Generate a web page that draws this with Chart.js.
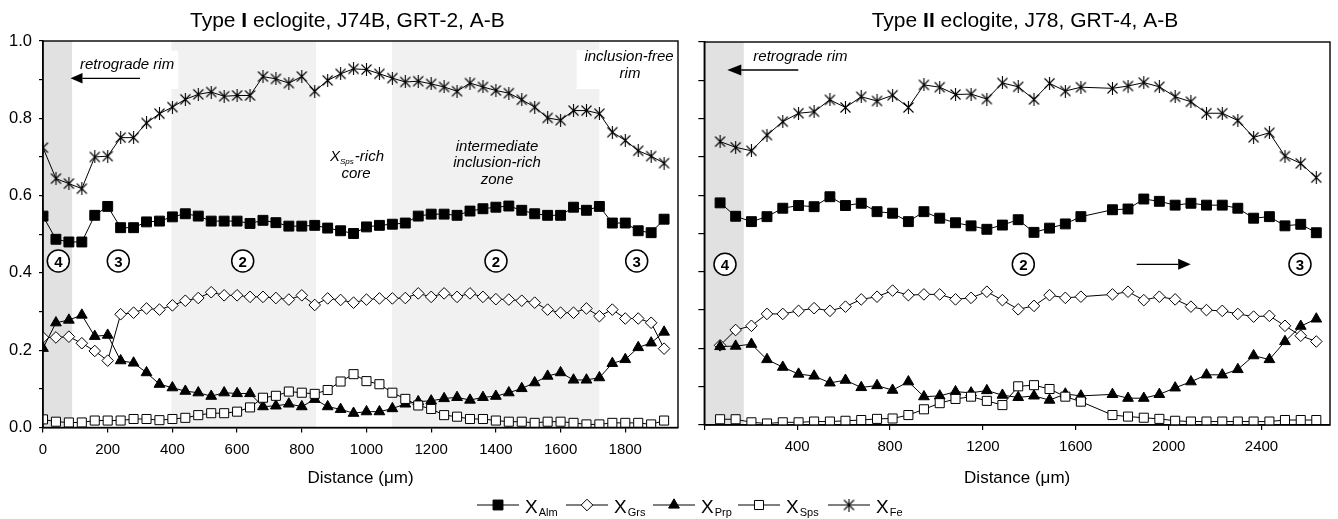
<!DOCTYPE html>
<html><head><meta charset="utf-8">
<script src="https://cdn.jsdelivr.net/npm/chart.js@4.4.0/dist/chart.umd.min.js"></script>
<style>
html,body{margin:0;padding:0;background:#fff;}
#wrap{position:relative;width:1338px;height:519px;background:#fff;}
canvas{position:absolute;left:0;top:0;}
</style></head><body>
<div id="wrap"><canvas id="c1" width="1338" height="519"></canvas><canvas id="c2" width="1338" height="519"></canvas></div>
<script>
// ---------- DATA: Type I eclogite, J74B, GRT-2 (left panel) ----------
const leftDistance = [0,40,80,120,160,200,240,280,320,360,400,440,480,520,560,600,640,680,720,760,800,840,880,920,960,1000,1040,1080,1120,1160,1200,1240,1280,1320,1360,1400,1440,1480,1520,1560,1600,1640,1680,1720,1760,1800,1840,1880,1920];
const leftAlm = [0.547,0.487,0.480,0.480,0.549,0.572,0.517,0.517,0.532,0.534,0.545,0.553,0.547,0.534,0.534,0.534,0.528,0.536,0.530,0.521,0.521,0.523,0.516,0.509,0.502,0.519,0.523,0.526,0.529,0.547,0.552,0.552,0.549,0.560,0.566,0.570,0.573,0.562,0.553,0.549,0.549,0.570,0.562,0.572,0.529,0.529,0.509,0.504,0.539];
const leftGrs = [0.233,0.233,0.235,0.218,0.198,0.173,0.293,0.297,0.308,0.305,0.316,0.328,0.335,0.350,0.342,0.342,0.338,0.338,0.335,0.331,0.342,0.317,0.334,0.330,0.323,0.331,0.334,0.334,0.335,0.347,0.338,0.347,0.338,0.347,0.338,0.332,0.331,0.328,0.323,0.305,0.297,0.297,0.308,0.288,0.305,0.282,0.282,0.271,0.204];
const leftPrp = [0.205,0.271,0.278,0.291,0.236,0.239,0.173,0.167,0.142,0.112,0.103,0.094,0.090,0.081,0.090,0.088,0.088,0.054,0.056,0.061,0.054,0.073,0.054,0.047,0.037,0.041,0.041,0.049,0.061,0.067,0.069,0.075,0.078,0.071,0.078,0.081,0.090,0.101,0.116,0.133,0.142,0.123,0.123,0.129,0.166,0.176,0.207,0.219,0.247];
const leftSps = [0.021,0.015,0.013,0.013,0.018,0.018,0.018,0.022,0.022,0.019,0.022,0.025,0.032,0.037,0.037,0.041,0.052,0.077,0.082,0.093,0.090,0.087,0.097,0.119,0.138,0.120,0.112,0.090,0.074,0.057,0.048,0.032,0.028,0.022,0.022,0.018,0.015,0.015,0.012,0.015,0.015,0.012,0.008,0.008,0.012,0.012,0.012,0.008,0.018];
const leftFe = [0.724,0.644,0.631,0.618,0.700,0.702,0.750,0.750,0.788,0.812,0.829,0.849,0.862,0.868,0.857,0.859,0.859,0.908,0.902,0.891,0.908,0.870,0.898,0.915,0.928,0.926,0.915,0.904,0.894,0.896,0.889,0.881,0.870,0.891,0.881,0.872,0.865,0.848,0.829,0.801,0.795,0.820,0.820,0.812,0.764,0.743,0.716,0.702,0.684];

// ---------- DATA: Type II eclogite, J78, GRT-4 (right panel) ----------
const rightDistance = [68,135,203,270,338,406,473,541,608,676,744,811,879,946,1014,1082,1149,1217,1284,1352,1420,1487,1555,1622,1758,1825,1893,1960,2028,2096,2163,2231,2298,2366,2434,2501,2569,2636];
const rightAlm = [0.580,0.545,0.531,0.544,0.566,0.573,0.570,0.596,0.573,0.579,0.557,0.553,0.531,0.557,0.540,0.528,0.520,0.511,0.522,0.536,0.503,0.514,0.525,0.544,0.562,0.564,0.590,0.584,0.574,0.579,0.574,0.574,0.566,0.540,0.544,0.520,0.524,0.502];
const rightGrs = [0.208,0.248,0.259,0.290,0.290,0.298,0.305,0.298,0.309,0.328,0.335,0.351,0.339,0.341,0.341,0.328,0.332,0.348,0.326,0.302,0.311,0.339,0.332,0.335,0.341,0.348,0.326,0.335,0.328,0.309,0.300,0.298,0.290,0.283,0.285,0.259,0.233,0.218];
const rightPrp = [0.205,0.206,0.211,0.171,0.151,0.133,0.128,0.110,0.117,0.098,0.103,0.091,0.113,0.074,0.076,0.087,0.084,0.090,0.078,0.072,0.076,0.065,0.081,0.076,0.080,0.070,0.070,0.080,0.097,0.113,0.131,0.131,0.145,0.181,0.171,0.218,0.258,0.277];
const rightSps = [0.015,0.015,0.007,0.004,0.007,0.007,0.009,0.009,0.011,0.013,0.016,0.017,0.026,0.041,0.057,0.068,0.074,0.063,0.052,0.101,0.104,0.094,0.074,0.061,0.026,0.022,0.019,0.016,0.011,0.009,0.009,0.009,0.009,0.009,0.009,0.013,0.013,0.013];
const rightFe = [0.740,0.725,0.716,0.757,0.792,0.814,0.818,0.849,0.829,0.857,0.846,0.861,0.829,0.888,0.882,0.863,0.864,0.851,0.893,0.883,0.850,0.892,0.872,0.882,0.879,0.885,0.894,0.883,0.857,0.844,0.814,0.814,0.795,0.751,0.763,0.702,0.683,0.646];

// ---------- ticks & labels ----------
const leftXTicks = [0,200,400,600,800,1000,1200,1400,1600,1800];
const rightXTicks = [0,400,800,1200,1600,2000,2400];
const rightXLabelled = [400,800,1200,1600,2000,2400];
const yTicks = [0,0.1,0.2,0.3,0.4,0.5,0.6,0.7,0.8,0.9,1.0];
const yLabelled = [0,0.2,0.4,0.6,0.8,1.0];
const seriesNames = ['Alm','Grs','Prp','Sps','Fe'];
const leftTitle = [['Type ',false],['I',true],[' eclogite, J74B, GRT-2, A-B',false]];
const rightTitle = [['Type ',false],['II',true],[' eclogite, J78, GRT-4, A-B',false]];
const axisTitle = 'Distance (\u03bcm)';

const F = "'Liberation Sans', Arial, Helvetica, sans-serif";

// asterisk marker (Excel-style star)
function makeStar(){
  const c=document.createElement('canvas'); c.width=13; c.height=13;
  const g=c.getContext('2d'); g.strokeStyle='#000'; g.lineWidth=1.1;
  g.beginPath();
  g.moveTo(1.5,1.5); g.lineTo(11.5,11.5);
  g.moveTo(11.5,1.5); g.lineTo(1.5,11.5);
  g.moveTo(6.5,0); g.lineTo(6.5,13);
  g.stroke();
  return c;
}
const starImg = makeStar();
const styles = {
  Alm:{ps:'rect',r:7,fill:'#000',order:5},
  Grs:{ps:'rectRot',r:5.8,fill:'#fff',order:4},
  Prp:{ps:'triangle',r:6.2,fill:'#000',order:3},
  Sps:{ps:'rect',r:6.4,fill:'#fff',order:2},
  Fe:{ps:starImg,r:6,fill:'#000',order:1}
};
function ds(name, xs, ys){
  const s=styles[name];
  return {label:'X'+name, data:xs.map((x,i)=>({x:x,y:ys[i]})), borderColor:'#000', borderWidth:1,
    pointStyle:s.ps, pointRadius:s.r, pointHoverRadius:s.r, pointBackgroundColor:s.fill, pointBorderColor:'#000',
    pointBorderWidth:1, tension:0, fill:false, order:s.order};
}

function drawArrow(ctx,x1,y,x2,headLen,half){
  ctx.save(); ctx.strokeStyle='#000'; ctx.fillStyle='#000'; ctx.lineWidth=1.3;
  const dir = x2>x1?1:-1;
  ctx.beginPath(); ctx.moveTo(x1,y); ctx.lineTo(x2-dir*headLen,y); ctx.stroke();
  ctx.beginPath(); ctx.moveTo(x2,y); ctx.lineTo(x2-dir*headLen,y-half); ctx.lineTo(x2-dir*headLen,y+half); ctx.closePath(); ctx.fill();
  ctx.restore();
}
function circled(ctx,x,y,t){
  ctx.save(); ctx.beginPath(); ctx.arc(x,y,11,0,Math.PI*2); ctx.fillStyle='#fff'; ctx.fill();
  ctx.lineWidth=1.5; ctx.strokeStyle='#000'; ctx.stroke();
  ctx.fillStyle='#000'; ctx.font='bold 15px '+F; ctx.textAlign='center'; ctx.textBaseline='alphabetic';
  ctx.fillText(t,x,y+5.5); ctx.restore();
}
function itext(ctx,t,x,y,align){
  ctx.save(); ctx.fillStyle='#000'; ctx.font='italic 15px '+F; ctx.textAlign=align||'center'; ctx.textBaseline='alphabetic';
  ctx.fillText(t,x,y); ctx.restore();
}
function drawTitle(ctx,parts,x,y){
  ctx.save(); ctx.fillStyle='#000'; ctx.textBaseline='alphabetic'; ctx.textAlign='left';
  let cx=x;
  for(const [t,b] of parts){ ctx.font=(b?'bold ':'')+'21px '+F; ctx.fillText(t,cx,y); cx+=ctx.measureText(t).width; }
  ctx.restore();
}

const decor = {
  id:'decor',
  beforeDraw(chart, args, o){
    const ctx=chart.ctx, a=chart.chartArea, xs=chart.scales.x;
    ctx.save();
    for(const b of o.bands){
      const x1=Math.max(a.left, xs.getPixelForValue(b[0])), x2=Math.min(a.right, xs.getPixelForValue(b[1]));
      ctx.fillStyle=b[2]; ctx.fillRect(x1,a.top,x2-x1,a.bottom-a.top);
    }
    ctx.fillStyle='#fff';
    for(const w of o.boxes){ ctx.fillRect(w[0],w[1],w[2]-w[0],w[3]-w[1]); }
    ctx.restore();
  },
  afterDraw(chart, args, o){
    const ctx=chart.ctx, a=chart.chartArea;
    ctx.save(); ctx.strokeStyle='#000'; ctx.lineWidth=1.4; ctx.strokeRect(a.left,a.top,a.right-a.left,a.bottom-a.top); ctx.restore();
    drawTitle(ctx,o.title,o.titleX,26.5);
    o.draw(ctx);
    if(o.legend) drawLegend(ctx);
  }
};

function drawLegend(ctx){
  const y=505, starts=[477,566,653,738,828];
  seriesNames.forEach((n,i)=>{
    const s=styles[n], x0=starts[i], x1=x0+42, cx=(x0+x1)/2;
    ctx.save(); ctx.strokeStyle='#000'; ctx.lineWidth=1;
    ctx.beginPath(); ctx.moveTo(x0,y); ctx.lineTo(x1,y); ctx.stroke();
    ctx.fillStyle=s.fill; ctx.strokeStyle='#000'; ctx.lineWidth=1;
    if(Chart.helpers && Chart.helpers.drawPoint){
      Chart.helpers.drawPoint(ctx,{pointStyle:s.ps,radius:s.r,borderWidth:1,rotation:0},cx,y);
    }
    ctx.fillStyle='#000'; ctx.textBaseline='alphabetic'; ctx.textAlign='left';
    ctx.font='19px '+F; ctx.fillText('X',x1+6,513);
    const w=ctx.measureText('X').width;
    ctx.font='11px '+F; ctx.fillText(n,x1+6+w+1,515.5);
    ctx.restore();
  });
}

function scalesFor(xmax, xTicks, xLabelled, ylabels, yWidth, xHeight){
  return {
    x:{type:'linear',min:0,max:xmax,
      afterBuildTicks:(s)=>{ s.ticks = xTicks.map(v=>({value:v})); },
      ticks:{color:'#000',font:{family:F,size:15},padding:8,maxRotation:0,autoSkip:false,
        callback:(v)=> xLabelled.includes(v)?String(v):''},
      grid:{display:true,drawOnChartArea:false,drawTicks:true,tickLength:5,color:'#000',lineWidth:1.2},
      border:{display:true,color:'#000',width:1.5},
      title:{display:true,text:axisTitle,color:'#000',font:{family:F,size:17},padding:{top:0,bottom:0}},
      afterFit:(s)=>{s.height=xHeight;}
    },
    y:{type:'linear',min:0,max:1,
      afterBuildTicks:(s)=>{ s.ticks = yTicks.map(v=>({value:v})); },
      ticks:{display:ylabels,color:'#000',font:{family:F,size:16.5},padding:7,
        callback:(v)=> yLabelled.some(l=>Math.abs(l-v)<1e-6)?v.toFixed(1):''},
      grid:{display:true,drawOnChartArea:false,drawTicks:true,tickLength:ylabels?4:6,color:'#000',lineWidth:1.2},
      border:{display:true,color:'#000',width:1.5},
      afterFit:(s)=>{s.width=yWidth;}
    }
  };
}

function makeChart(id, xs, data, xmax, xTicks, xLabelled, ylabels, yWidth, xHeight, pad, dec){
  return new Chart(document.getElementById(id),{
    type:'line',
    data:{datasets:[
      ds('Alm',xs,data.Alm), ds('Grs',xs,data.Grs), ds('Prp',xs,data.Prp), ds('Sps',xs,data.Sps), ds('Fe',xs,data.Fe)
    ]},
    options:{responsive:false,animation:false,events:[],
      layout:{padding:pad},
      plugins:{legend:{display:false},tooltip:{enabled:false},title:{display:false},decor:dec},
      scales:scalesFor(xmax,xTicks,xLabelled,ylabels,yWidth,xHeight)
    },
    plugins:[decor]
  });
}

makeChart('c1', leftDistance, {Alm:leftAlm,Grs:leftGrs,Prp:leftPrp,Sps:leftSps,Fe:leftFe},
  1963, leftXTicks, leftXTicks, true, 42, 61, {left:1,right:660,top:41,bottom:30.5},
  {bands:[[0,90,'#e1e1e1'],[397,844,'#f1f1f1'],[1079,1720,'#f1f1f1']],
   boxes:[[72,50.7,178.3,89],[576.7,50,677,89]],
   title:leftTitle, titleX:190, legend:false,
   draw:(ctx)=>{
     itext(ctx,'retrograde rim',80,69,'left');
     drawArrow(ctx,140,78.3,70.5,12,5.3);
     ctx.save(); ctx.fillStyle='#000'; ctx.textBaseline='alphabetic'; ctx.textAlign='left';
     ctx.font='italic 15px '+F; const wX=ctx.measureText('X').width, wR=ctx.measureText('-rich').width;
     ctx.font='italic 8px '+F; const wS=ctx.measureText('Sps').width;
     const tot=wX+wS+1+wR; let sx=357-tot/2;
     ctx.font='italic 15px '+F; ctx.fillText('X',sx,160.7); sx+=wX;
     ctx.font='italic 8px '+F; ctx.fillText('Sps',sx,163.5); sx+=wS+1;
     ctx.font='italic 15px '+F; ctx.fillText('-rich',sx,160.7);
     ctx.restore();
     itext(ctx,'core',356,178.3);
     itext(ctx,'intermediate',497,150.7);
     itext(ctx,'inclusion-rich',497,167.3);
     itext(ctx,'zone',497,184);
     itext(ctx,'inclusion-free',629,60.7);
     itext(ctx,'rim',630,78.3);
     circled(ctx,58.3,261,'4'); circled(ctx,118.3,261,'3'); circled(ctx,242.7,261,'2');
     circled(ctx,496,261,'2'); circled(ctx,636.7,261,'3');
   }});

makeChart('c2', rightDistance, {Alm:rightAlm,Grs:rightGrs,Prp:rightPrp,Sps:rightSps,Fe:rightFe},
  2695, rightXTicks, rightXLabelled, false, 10, 63.5, {left:694.3,right:5.7,top:42,bottom:30.5},
  {bands:[[0,170,'#e1e1e1']], boxes:[],
   title:rightTitle, titleX:871.7, legend:true,
   draw:(ctx)=>{
     itext(ctx,'retrograde rim',753.3,60.7,'left');
     drawArrow(ctx,798.3,70,727.3,14,5.5);
     circled(ctx,725,264.3,'4'); circled(ctx,1023.3,264.3,'2'); circled(ctx,1300,264.3,'3');
     drawArrow(ctx,1136.7,264.3,1190.7,12.5,5.5);
   }});
</script>
</body></html>
